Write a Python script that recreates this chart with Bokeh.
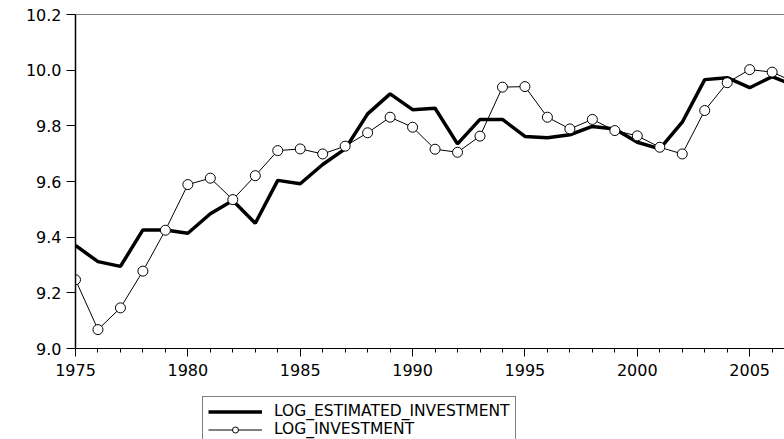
from bokeh.plotting import figure
from bokeh.layouts import column
from bokeh.models import (Range1d, FixedTicker, PrintfTickFormatter, Legend, LegendItem,
                          Span, ColumnDataSource)
from bokeh.embed import file_html
from bokeh.resources import INLINE

years = list(range(1975, 2008))
log_estimated_investment = [
    9.370, 9.312, 9.295, 9.426, 9.426, 9.414, 9.484, 9.532, 9.450, 9.604,
    9.592, 9.661, 9.717, 9.843, 9.915, 9.858, 9.863, 9.735, 9.823, 9.823,
    9.762, 9.757, 9.768, 9.798, 9.789, 9.741, 9.717, 9.813, 9.966, 9.973,
    9.937, 9.977, 9.945,
]
log_investment = [
    9.247, 9.068, 9.146, 9.278, 9.425, 9.589, 9.612, 9.535, 9.621, 9.711,
    9.717, 9.699, 9.727, 9.775, 9.831, 9.795, 9.716, 9.705, 9.763, 9.939,
    9.941, 9.831, 9.789, 9.823, 9.783, 9.764, 9.723, 9.699, 9.855, 9.955,
    10.002, 9.993, 9.957,
]
y_ticks = [9.0, 9.2, 9.4, 9.6, 9.8, 10.0, 10.2]
x_ticks = [1975, 1980, 1985, 1990, 1995, 2000, 2005]
series_names = ["LOG_ESTIMATED_INVESTMENT", "LOG_INVESTMENT"]

src = ColumnDataSource(dict(x=years, est=log_estimated_investment, inv=log_investment))

FONT = "DejaVu Sans"

p = figure(width=784, height=388, output_backend="svg", toolbar_location=None,
           x_range=Range1d(1975, 2006.55), y_range=Range1d(9.0, 10.2),
           min_border_left=75, min_border_right=0, min_border_top=14, min_border_bottom=40)
p.outline_line_color = None
p.xgrid.visible = False
p.ygrid.visible = False
p.background_fill_color = "white"
p.border_fill_color = "white"

p.line("x", "est", source=src, line_color="black", line_width=3.5)
p.line("x", "inv", source=src, line_color="black", line_width=1)
p.scatter("x", "inv", source=src, size=10, fill_color="white", line_color="black",
          line_width=1)

p.add_layout(Span(location=10.2, dimension="width", line_color="black", line_width=1))

p.yaxis.ticker = FixedTicker(ticks=y_ticks)
p.yaxis.formatter = PrintfTickFormatter(format="%.1f")
p.yaxis.major_tick_out = 9
p.yaxis.major_tick_in = 0
p.yaxis.minor_tick_out = 0
p.yaxis.minor_tick_in = 0
p.yaxis.major_label_standoff = 5
p.yaxis.axis_line_width = 1.5

p.xaxis.ticker = FixedTicker(ticks=x_ticks, minor_ticks=years)
p.xaxis.major_tick_out = 8
p.xaxis.major_tick_in = 0
p.xaxis.minor_tick_out = 4
p.xaxis.minor_tick_in = 0
p.xaxis.major_label_standoff = 7

for ax in (p.xaxis, p.yaxis):
    ax.axis_line_color = "black"
    ax.major_tick_line_color = "black"
    ax.minor_tick_line_color = "black"
    ax.major_label_text_font = FONT
    ax.major_label_text_font_size = "16px"
    ax.major_label_text_color = "black"

# legend strip below the chart (its own data lie outside its ranges, only the legend shows)
p2 = figure(width=784, height=51, output_backend="svg", toolbar_location=None,
            x_axis_type=None, y_axis_type=None,
            x_range=Range1d(0, 1), y_range=Range1d(0, 1),
            min_border_left=75, min_border_right=0, min_border_top=0, min_border_bottom=0)
p2.outline_line_color = None
p2.xgrid.visible = False
p2.ygrid.visible = False
p2.background_fill_color = "white"
p2.border_fill_color = "white"
g1 = p2.line("x", "est", source=src, line_color="black", line_width=3.5)
g2 = p2.line("x", "inv", source=src, line_color="black", line_width=1)
g3 = p2.scatter("x", "inv", source=src, size=8, fill_color="white", line_color="black",
                line_width=1)

legend = Legend(items=[
    LegendItem(label=series_names[0], renderers=[g1]),
    LegendItem(label=series_names[1], renderers=[g2, g3]),
], location=(127, -5))
legend.border_line_color = "black"
legend.border_line_width = 1
legend.padding = 5
legend.margin = 0
legend.spacing = -3
legend.glyph_width = 54
legend.glyph_height = 15
legend.label_height = 15
legend.label_standoff = 12
legend.label_text_font = FONT
legend.label_text_font_size = "15.5px"
legend.label_text_color = "black"
legend.background_fill_alpha = 1
p2.add_layout(legend, "center")

layout = column(p, p2, spacing=0)
open("out.html", "w").write(file_html(layout, INLINE))
